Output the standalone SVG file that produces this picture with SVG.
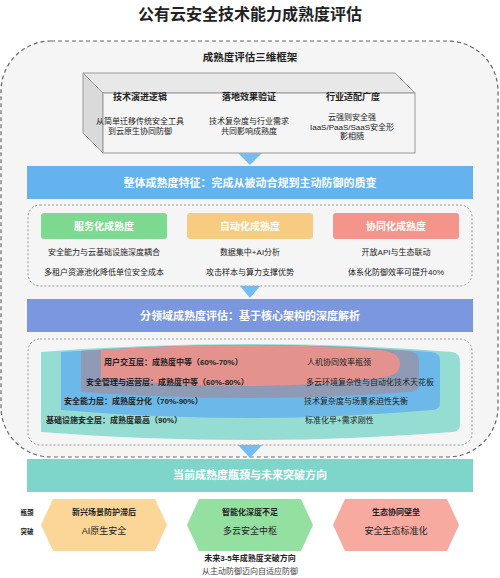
<svg xmlns="http://www.w3.org/2000/svg" width="500" height="578" viewBox="0 0 500 578">
<style>
text{font-family:"Liberation Sans","Noto Sans CJK SC",sans-serif;text-anchor:middle;dominant-baseline:central;fill:#222}
.b{font-weight:bold}
.w{fill:#fff;font-weight:bold}
.s8{font-size:8px}
.s9{font-size:9px}
.l{text-anchor:start}
.dot{fill:none;stroke:#999;stroke-width:1;stroke-dasharray:2,2}
.arrow{fill:#74bdf3}
</style>
<rect width="500" height="578" fill="#fff"/>
<text class="b" x="250" y="14" style="font-size:16px">公有云安全技术能力成熟度评估</text>
<rect id="container" x="1" y="41" width="497" height="416" rx="50" fill="#f5f5f5" stroke="#666" stroke-width="1.2" stroke-dasharray="4,3"/>
<text class="b" x="250" y="57" style="font-size:10.5px">成熟度评估三维框架</text>

<g id="framework">
<polygon points="83,73 395,73 415,93 103,93" fill="#e8e8e8" stroke="#999" stroke-width="1"/>
<polygon points="83,73 103,93 103,153 83,133" fill="#dadada" stroke="#999" stroke-width="1"/>
<rect x="103" y="93" width="312" height="60" fill="#f5f5f5" stroke="#999" stroke-width="1"/>
<text class="b s9" x="140" y="97">技术演进逻辑</text>
<text class="s8" x="140" y="121">从简单迁移传统安全工具</text>
<text class="s8" x="140" y="131">到云原生协同防御</text>
<text class="b s9" x="249" y="97">落地效果验证</text>
<text class="s8" x="249" y="121">技术复杂度与行业需求</text>
<text class="s8" x="249" y="131">共同影响成熟度</text>
<text class="b s9" x="353" y="97">行业适配广度</text>
<text class="s8" x="352" y="117">云强则安全强</text>
<text class="s8" x="352" y="127">IaaS/PaaS/SaaS安全形</text>
<text class="s8" x="352" y="136">影相随</text>
</g>

<g id="connectors">
<polygon class="arrow" points="238,153 262,153 250,165"/>
<polygon class="arrow" points="240,286 260,286 250,298"/>
<polygon class="arrow" points="238,445 262,445 250,458"/>
</g>

<g id="overall">
<rect x="27" y="166" width="446" height="33" fill="#64b3ee"/>
<text class="w" x="250" y="183" style="font-size:11px">整体成熟度特征：完成从被动合规到主动防御的质变</text>
</g>
<rect class="dot" x="28" y="205" width="444" height="81" rx="12"/>
<g id="service">
<rect x="41" y="213" width="126" height="26" rx="3" fill="#7dd98f"/>
<text class="w" x="104" y="226" style="font-size:10px">服务化成熟度</text>
<text class="s8" x="104" y="252">安全能力与云基础设施深度耦合</text>
<text class="s8" x="104" y="272">多租户资源池化降低单位安全成本</text>
</g>
<g id="auto">
<rect x="187" y="213" width="126" height="26" rx="3" fill="#f7cc80"/>
<text class="w" x="250" y="226" style="font-size:10px">自动化成熟度</text>
<text class="s8" x="250" y="252">数据集中+AI分析</text>
<text class="s8" x="250" y="272">攻击样本与算力支撑优势</text>
</g>
<g id="collab">
<rect x="333" y="213" width="126" height="26" rx="3" fill="#f4948a"/>
<text class="w" x="396" y="226" style="font-size:10px">协同化成熟度</text>
<text class="s8" x="396" y="252">开放API与生态联动</text>
<text class="s8" x="396" y="272">体系化防御效率可提升40%</text>
</g>

<g id="domain">
<rect x="27" y="299" width="446" height="33" fill="#7b97e0"/>
<text class="w" x="250" y="316" style="font-size:11px">分领域成熟度评估：基于核心架构的深度解析</text>
</g>
<rect class="dot" x="28" y="339" width="444" height="106" rx="12"/>
<g id="layers">
<path d="M41,352 Q250,336 452,352 Q460,353 460,362 L460,424 Q460,432 452,432 Q250,448 41,432 Z" fill="#95ddd3"/>
<path d="M61,352 Q250,338 432,352 Q440,353 440,360 L440,402 Q440,410 432,410 Q250,426 61,410 Z" fill="#6cb9e9"/>
<path d="M81,351 Q250,339 409,351 Q419,352 419,360 L419,384 Q419,392 409,392 Q250,404 81,392 Z" fill="#8f9bb5"/>
<path d="M101,350 Q250,340 380,350 Q400,352 400,364 Q400,376 380,378 Q250,394 101,378 Z" fill="#e3928e"/>
<text class="b s8 l" x="104" y="362">用户交互层：成熟度中等（60%-70%）</text>
<text class="b s8 l" x="86" y="382">安全管理与运营层：成熟度中等（60%-80%）</text>
<text class="b s8 l" x="64" y="401">安全能力层：成熟度分化（70%-90%）</text>
<text class="b s8 l" x="46" y="420">基础设施安全层：成熟度最高（90%）</text>
<text class="s8 l" x="307" y="362">人机协同效率瓶颈</text>
<text class="s8 l" x="306" y="382">多云环境复杂性与自动化技术天花板</text>
<text class="s8 l" x="304" y="401">技术复杂度与场景紧迫性失衡</text>
<text class="s8 l" x="305" y="420">标准化早+需求刚性</text>
</g>

<g id="future">
<rect x="27" y="459" width="446" height="33" fill="#7ed6cb"/>
<text class="w" x="250" y="475" style="font-size:11px">当前成熟度瓶颈与未来突破方向</text>
</g>
<text class="b" x="27" y="512" style="font-size:6.5px">瓶颈</text>
<text class="b" x="27" y="531" style="font-size:6.5px">突破</text>
<g id="hex1">
<polygon points="53,499 155,499 167,525 155,551 53,551 41,525" fill="#fcd699"/>
<text class="b s8" x="104" y="512">新兴场景防护滞后</text>
<text class="s9" x="104" y="531">AI原生安全</text>
</g>
<g id="hex2">
<polygon points="199,499 301,499 313,525 301,551 199,551 187,525" fill="#93e0a1"/>
<text class="b s8" x="250" y="512">智能化深度不足</text>
<text class="s9" x="250" y="531">多云安全中枢</text>
</g>
<g id="hex3">
<polygon points="345,499 447,499 459,525 447,551 345,551 333,525" fill="#f7aaa0"/>
<text class="b s8" x="396" y="512">生态协同壁垒</text>
<text class="s9" x="396" y="531">安全生态标准化</text>
</g>
<text class="b s8" x="250" y="558">未来3-5年成熟度突破方向</text>
<text class="s8" x="250" y="571" style="fill:#444">从主动防御迈向自适应防御</text>
</svg>
